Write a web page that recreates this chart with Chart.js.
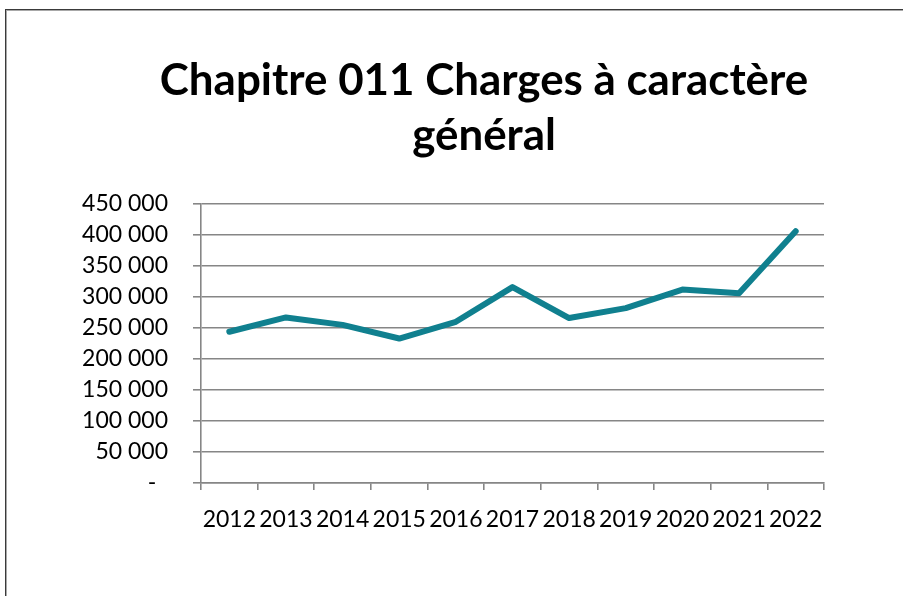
<!DOCTYPE html>
<html>
<head>
<meta charset="utf-8">
<script src="https://cdn.jsdelivr.net/npm/chart.js@4/dist/chart.umd.min.js"></script>
<style>
  html, body { margin: 0; padding: 0; width: 903px; height: 596px; overflow: hidden; background: #fff; }
  #frame { position: absolute; left: 5px; top: 9px; width: 1000px; height: 700px;
           border-left: 1px solid #3a3a3a; border-top: 1px solid #3a3a3a;
           box-shadow: inset 1px 1px 0 #a8a8a8; }
  #c { position: absolute; left: 7px; top: 11px; }
</style>
</head>
<body>
<div id="frame"></div>
<canvas id="c" width="954" height="600"></canvas>
<script>
const titleLines = ['Chapitre 011 Charges à caractère', 'général'];
const categories = ['2012','2013','2014','2015','2016','2017','2018','2019','2020','2021','2022'];
const charges = [244000, 267000, 255000, 233000, 260000, 316000, 266000, 282000, 312000, 306000, 406000];
const yTickValues = [0, 50000, 100000, 150000, 200000, 250000, 300000, 350000, 400000, 450000];
const yTickLabels = ['-  ', '50 000', '100 000', '150 000', '200 000', '250 000', '300 000', '350 000', '400 000', '450 000'];

function build() {
  const ctx = document.getElementById('c').getContext('2d');
  ctx.font = 'bold 40px Lato';
  const w40 = ctx.measureText(titleLines[0]).width;
  const titleSize = Math.round(40 * 648 / w40 * 10) / 10;
  const lineH = 55;
  const padTop = Math.max(0, (84 - 0.3225 * titleSize) - lineH / 2);
  const padBottom = 193 - padTop - 2 * lineH;

  new Chart(ctx, {
    type: 'line',
    data: {
      labels: categories,
      datasets: [{
        data: charges,
        borderColor: '#10808f',
        backgroundColor: '#10808f',
        borderWidth: 6,
        pointRadius: 0,
        pointHoverRadius: 0,
        tension: 0,
        borderCapStyle: 'round',
        borderJoinStyle: 'round',
        fill: false
      }]
    },
    options: {
      responsive: false,
      devicePixelRatio: 1,
      animation: false,
      events: [],
      layout: { padding: { left: 0, right: 0, top: 0, bottom: 48 } },
      plugins: {
        legend: { display: false },
        tooltip: { enabled: false },
        title: {
          display: true,
          text: titleLines,
          color: '#000',
          font: { family: 'Lato', weight: 'bold', size: titleSize, lineHeight: lineH / titleSize },
          padding: { top: padTop, bottom: padBottom }
        }
      },
      scales: {
        x: {
          type: 'category',
          offset: true,
          afterFit(scale) { scale.height = 80; },
          border: { display: true, color: '#868686', width: 1.6 },
          grid: { offset: true, drawOnChartArea: false, drawTicks: true, tickLength: 7, color: '#868686', lineWidth: 1.6 },
          ticks: { autoSkip: false, maxRotation: 0, minRotation: 0, padding: 16, color: '#000',
                   font: { family: 'Lato', size: 23 } }
        },
        y: {
          min: 0, max: 450000,
          afterFit(scale) { scale.width = 194; },
          afterBuildTicks(scale) { scale.ticks = yTickValues.map(v => ({ value: v })); },
          border: { display: true, color: '#868686', width: 1.6 },
          grid: { drawTicks: true, tickLength: 8, color: '#868686', lineWidth: 1.6 },
          ticks: {
            padding: 25, color: '#000', font: { family: 'Lato', size: 23 },
            callback(value) { const i = yTickValues.indexOf(value); return i >= 0 ? yTickLabels[i] : ''; }
          }
        },
        spacer: {
          type: 'linear',
          position: 'right',
          display: true,
          afterFit(scale) { scale.width = 137; },
          border: { display: false },
          grid: { display: false, drawTicks: false },
          ticks: { display: false }
        }
      }
    }
  });
}

Promise.all([
  document.fonts.load('bold 40px Lato'),
  document.fonts.load('23px Lato')
]).then(build, build);
</script>
</body>
</html>
